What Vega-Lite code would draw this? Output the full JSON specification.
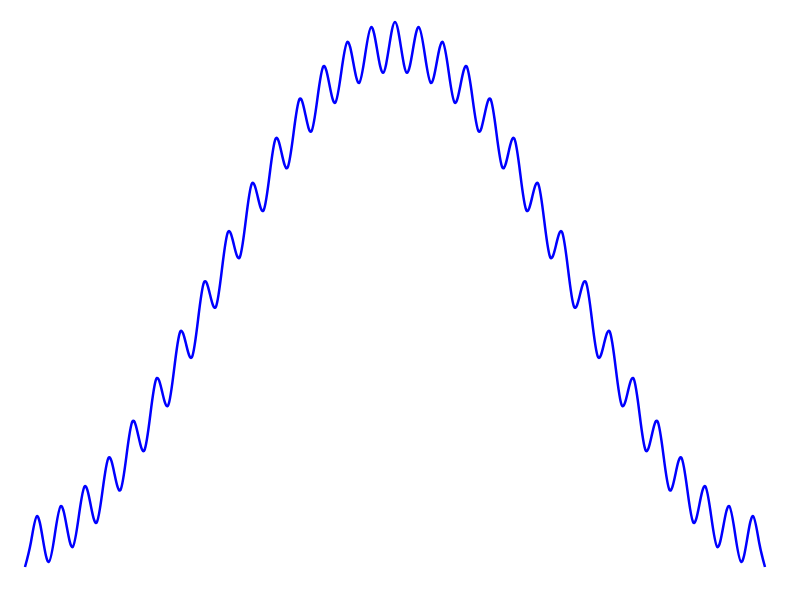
{
  "$schema": "https://vega.github.io/schema/vega-lite/v6.json",
  "width": 790,
  "height": 589,
  "padding": 0,
  "background": "white",
  "config": {"view": {"stroke": null}},
  "data": {"values": [
    {"x":0,"y":-1.1},{"x":1,"y":-0.9987},{"x":2,"y":-0.8949},{"x":3,"y":-0.9885},{"x":4,"y":-1.0795},
    {"x":5,"y":-0.9681},{"x":6,"y":-0.8541},{"x":7,"y":-0.9378},{"x":8,"y":-1.019},{"x":9,"y":-0.8978},
    {"x":10,"y":-0.7744},{"x":11,"y":-0.8487},{"x":12,"y":-0.9208},{"x":13,"y":-0.7908},{"x":14,"y":-0.6588},
    {"x":15,"y":-0.7248},{"x":16,"y":-0.789},{"x":17,"y":-0.6514},{"x":18,"y":-0.5121},{"x":19,"y":-0.5713},
    {"x":20,"y":-0.629},{"x":21,"y":-0.4853},{"x":22,"y":-0.3404},{"x":23,"y":-0.3944},{"x":24,"y":-0.4473},
    {"x":25,"y":-0.2994},{"x":26,"y":-0.1507},{"x":27,"y":-0.2013},{"x":28,"y":-0.2514},{"x":29,"y":-0.1012},
    {"x":30,"y":0.0493},{"x":31,"y":0},{"x":32,"y":-0.0493},{"x":33,"y":0.1012},{"x":34,"y":0.2514},
    {"x":35,"y":0.2013},{"x":36,"y":0.1507},{"x":37,"y":0.2994},{"x":38,"y":0.4473},{"x":39,"y":0.3944},
    {"x":40,"y":0.3404},{"x":41,"y":0.4853},{"x":42,"y":0.629},{"x":43,"y":0.5713},{"x":44,"y":0.5121},
    {"x":45,"y":0.6514},{"x":46,"y":0.789},{"x":47,"y":0.7248},{"x":48,"y":0.6588},{"x":49,"y":0.7908},
    {"x":50,"y":0.9208},{"x":51,"y":0.8487},{"x":52,"y":0.7744},{"x":53,"y":0.8978},{"x":54,"y":1.019},
    {"x":55,"y":0.9378},{"x":56,"y":0.8541},{"x":57,"y":0.9681},{"x":58,"y":1.0795},{"x":59,"y":0.9885},
    {"x":60,"y":0.8949},{"x":61,"y":0.9987},{"x":62,"y":1.1},{"x":63,"y":0.9987},{"x":64,"y":0.8949},
    {"x":65,"y":0.9885},{"x":66,"y":1.0795},{"x":67,"y":0.9681},{"x":68,"y":0.8541},{"x":69,"y":0.9378},
    {"x":70,"y":1.019},{"x":71,"y":0.8978},{"x":72,"y":0.7744},{"x":73,"y":0.8487},{"x":74,"y":0.9208},
    {"x":75,"y":0.7908},{"x":76,"y":0.6588},{"x":77,"y":0.7248},{"x":78,"y":0.789},{"x":79,"y":0.6514},
    {"x":80,"y":0.5121},{"x":81,"y":0.5713},{"x":82,"y":0.629},{"x":83,"y":0.4853},{"x":84,"y":0.3404},
    {"x":85,"y":0.3944},{"x":86,"y":0.4473},{"x":87,"y":0.2994},{"x":88,"y":0.1507},{"x":89,"y":0.2013},
    {"x":90,"y":0.2514},{"x":91,"y":0.1012},{"x":92,"y":-0.0493},{"x":93,"y":0},{"x":94,"y":0.0493},
    {"x":95,"y":-0.1012},{"x":96,"y":-0.2514},{"x":97,"y":-0.2013},{"x":98,"y":-0.1507},{"x":99,"y":-0.2994},
    {"x":100,"y":-0.4473},{"x":101,"y":-0.3944},{"x":102,"y":-0.3404},{"x":103,"y":-0.4853},{"x":104,"y":-0.629},
    {"x":105,"y":-0.5713},{"x":106,"y":-0.5121},{"x":107,"y":-0.6514},{"x":108,"y":-0.789},{"x":109,"y":-0.7248},
    {"x":110,"y":-0.6588},{"x":111,"y":-0.7908},{"x":112,"y":-0.9208},{"x":113,"y":-0.8487},{"x":114,"y":-0.7744},
    {"x":115,"y":-0.8978},{"x":116,"y":-1.019},{"x":117,"y":-0.9378},{"x":118,"y":-0.8541},{"x":119,"y":-0.9681},
    {"x":120,"y":-1.0795},{"x":121,"y":-0.9885},{"x":122,"y":-0.8949},{"x":123,"y":-0.9987},{"x":124,"y":-1.1}
  ]},
  "mark": {"type": "line", "color": "#0000ff", "strokeWidth": 2.5, "interpolate": "natural"},
  "encoding": {
    "x": {"field": "x", "type": "quantitative", "axis": null,
          "scale": {"domain": [-4.189, 128.189], "nice": false, "zero": false}},
    "y": {"field": "y", "type": "quantitative", "axis": null,
          "scale": {"domain": [-1.1888, 1.1888], "nice": false, "zero": false}}
  }
}
